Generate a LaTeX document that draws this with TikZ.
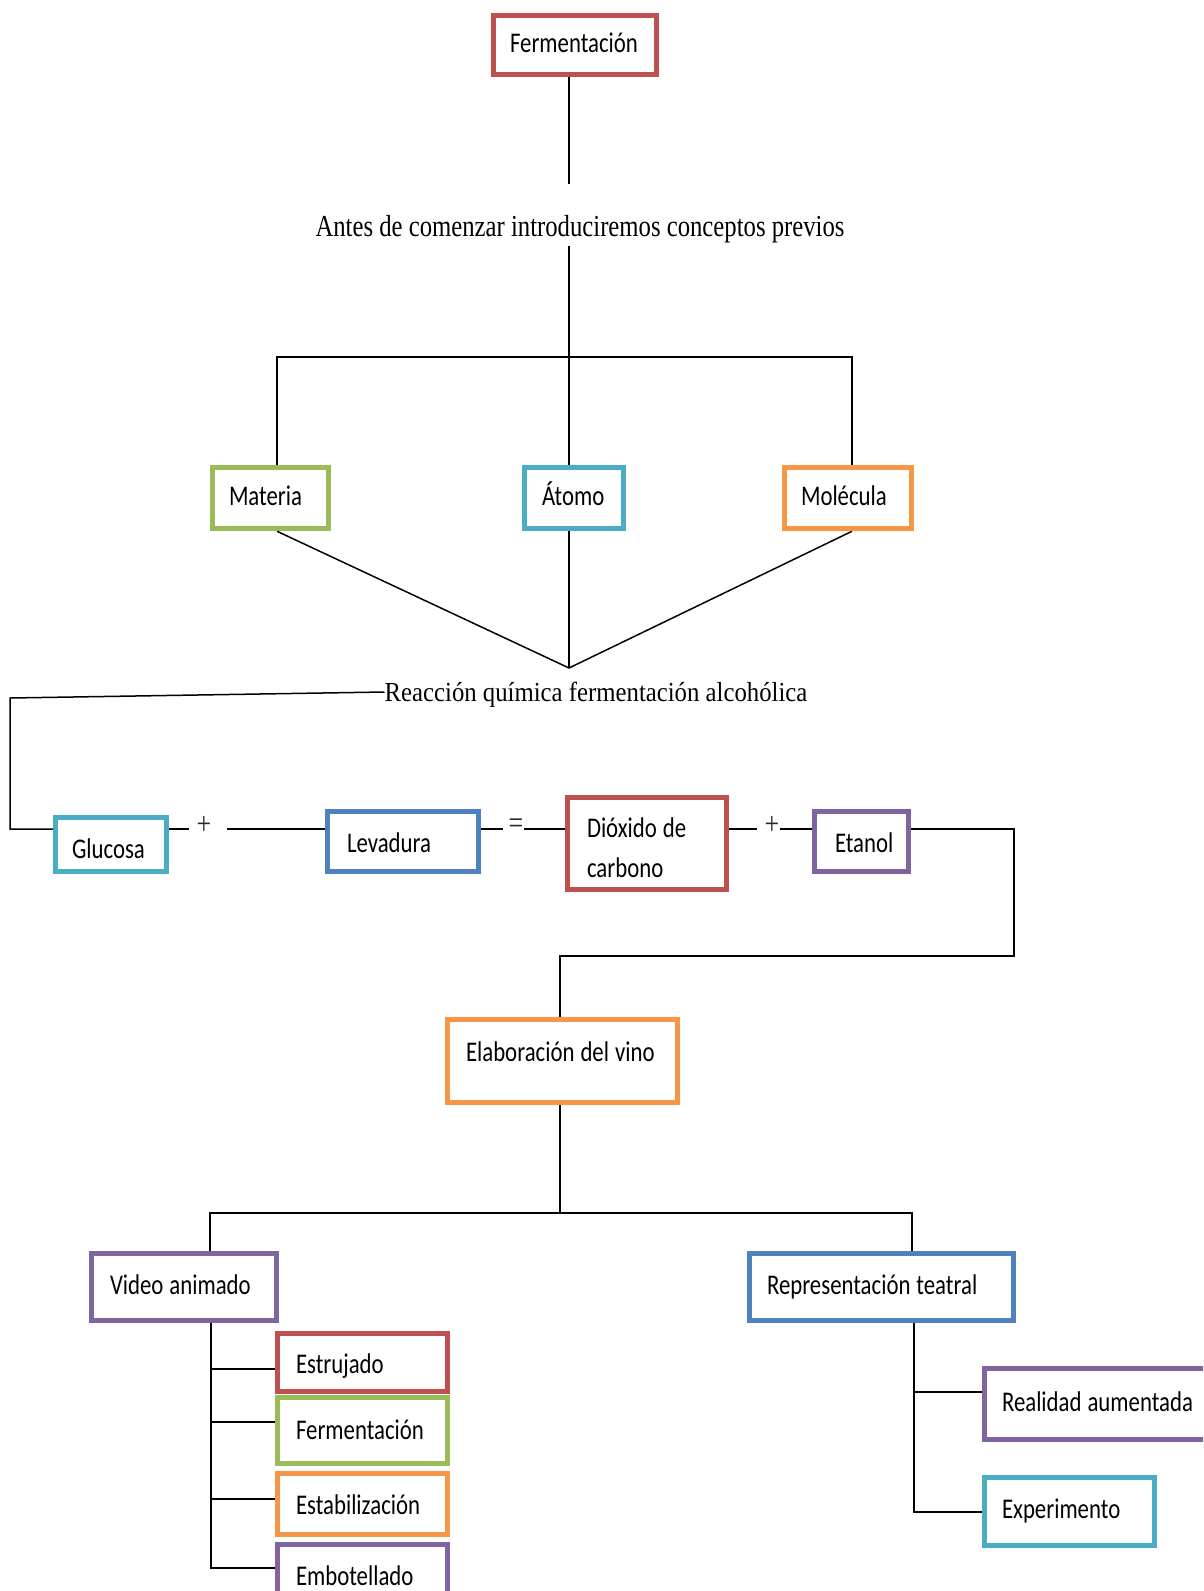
\documentclass[tikz,border=0pt]{standalone}
\usepackage{fontspec}
\newfontfamily\boxfont[FakeStretch=0.8]{Carlito}
\newfontfamily\introfont[FakeStretch=0.81]{Liberation Serif}
\newfontfamily\reacfont[FakeStretch=0.9]{Liberation Serif}
\usetikzlibrary{backgrounds}
\definecolor{cred}{HTML}{C0504D}
\definecolor{cgreen}{HTML}{9BBB59}
\definecolor{cteal}{HTML}{4BACC6}
\definecolor{corange}{HTML}{F79646}
\definecolor{cblue}{HTML}{4F81BD}
\definecolor{cpurple}{HTML}{8064A2}
\begin{document}
\begin{tikzpicture}[x=1pt,y=-1pt,
  bx/.style n args={4}{draw=#1, line width=5.5pt, fill=white, rectangle,
    minimum width=#2, minimum height=#3, inner xsep=#4, inner ysep=0pt,
    text width={#2-2*#4}, align=left,
    font=\boxfont\fontsize{28.5}{40}\selectfont,
    execute at begin node={\spaceskip=6pt\relax},
    text height=20pt, text depth=6pt},
  ln/.style={line width=1.5pt, draw=black},
  sgn/.style={inner sep=0pt, font=\introfont\fontsize{32}{36}\selectfont, text=black!85},
  introtxt/.style={inner sep=0pt, font=\introfont\fontsize{30.5}{36}\selectfont, text height=21pt, text depth=7pt},
  reactxt/.style={inner sep=0pt, font=\reacfont\fontsize{27.5}{33}\selectfont, text height=20pt, text depth=6pt}]
\useasboundingbox (0,0) rectangle (1203,1591);
\clip (0,0) rectangle (1203,1591);

% boxes and texts
\node[bx={cred}{163}{59}{16.5}] (ferm) at (575,45) {Fermentación};
\node[introtxt] (intro) at (580,229) {Antes de comenzar introduciremos conceptos previos};
\node[bx={cgreen}{116}{61}{16.5}] (mat) at (270.5,498) {Materia};
\node[bx={cteal}{99}{61}{17.5}] (ato) at (574,498) {Átomo};
\node[bx={corange}{127}{61}{16.5}] (mol) at (848,498) {Molécula};
\node[reactxt] (reac) at (596,694) {Reacción química fermentación alcohólica};
\node[bx={cteal}{111}{54}{16.5}] (glu) at (111,844.5) {\raisebox{-7pt}{Glucosa}};
\node[bx={cblue}{151}{60}{19.5}] (lev) at (403,841.5) {\raisebox{-4pt}{Levadura}};
\node[bx={cred}{159}{92}{19.5}, text height={}, text depth={}] (dio) at (647,843.5) {\raisebox{-4pt}[\height][\depth]{Dióxido de}\\\raisebox{-4pt}[\height][\depth]{carbono}};
\node[bx={cpurple}{94}{60}{20.5}] (eta) at (861.5,841.5) {\raisebox{-4pt}{Etanol}};
\node[bx={corange}{230}{83}{18.5}] (elab) at (562.5,1061) {\raisebox{6.5pt}{Elaboración del vino}};
\node[bx={cpurple}{185}{67}{18.5}] (vid) at (184,1287) {Video animado};
\node[bx={cblue}{264}{67}{17.5}] (rep) at (881.5,1287) {Representación teatral};
\node[bx={cred}{170}{58}{18.5}] (est) at (362.5,1362.5) {\raisebox{-4pt}{Estrujado}};
\node[bx={cgreen}{170}{66}{18.5}] (fer2) at (362.5,1430.5) {\raisebox{-2pt}{Fermentación}};
\node[bx={corange}{170}{61}{18.5}] (stab) at (362.5,1504) {\raisebox{-3pt}{Estabilización}};
\node[bx={cpurple}{170}{58}{18.5}] (emb) at (362.5,1573.5) {\raisebox{-5pt}{Embotellado}};
\node[bx={cpurple}{231}{71}{17.5}] (real) at (1100,1404) {Realidad aumentada};
\node[bx={cteal}{170}{68}{17.5}] (exp) at (1069.5,1511.5) {Experimento};

% signs
\node[sgn] (p1) at (204,825) {+};
\node[sgn] (eq) at (516,826) {=};
\node[sgn] (p2) at (772,825) {+};

\begin{pgfonlayer}{background}
\coordinate (c1) at (569,184);
\coordinate (c2) at (569,246);
\coordinate (jL) at (277,357);
\coordinate (jR) at (852,357);
\coordinate (cv) at (569,668);
\coordinate (r1) at (10,698);
\coordinate (r2) at (10,829);
\coordinate (g1) at (189,829);
\coordinate (g2) at (227,829);
\coordinate (l1) at (503,829);
\coordinate (l2) at (524,829);
\coordinate (d1) at (757,829);
\coordinate (d2) at (780,829);
\coordinate (e1) at (1014,829);
\coordinate (e2) at (1014,956);
\coordinate (e3) at (560,956);
\coordinate (t1) at (560,1213);
\coordinate (tL) at (210,1213);
\coordinate (tR) at (912,1213);
\coordinate (b1) at (211,1369);
\coordinate (b2) at (211,1422);
\coordinate (b3) at (211,1499);
\coordinate (vb) at (211,1568);
\coordinate (q1) at (914,1392);
\coordinate (rb) at (914,1512);

\draw[ln] (ferm.south -| c1) -- (c1);
\draw[ln] (c2) -- (ato.north -| c2);
\draw[ln] (mat.north -| jL) -- (jL) -- (jR) -- (mol.north -| jR);
\draw[ln] (mat.south -| jL) -- (cv) -- (mol.south -| jR);
\draw[ln] (ato.south -| cv) -- (cv);
\draw[ln] ([yshift=2pt]reac.west) -- (r1) -- (r2) -- (glu.west |- r2);
\draw[ln] (glu.east |- r2) -- (g1);
\draw[ln] (g2) -- (lev.west |- r2);
\draw[ln] (lev.east |- r2) -- (l1);
\draw[ln] (l2) -- (dio.west |- r2);
\draw[ln] (dio.east |- r2) -- (d1);
\draw[ln] (d2) -- (eta.west |- r2);
\draw[ln] (eta.east |- r2) -- (e1) -- (e2) -- (e3) -- (elab.north -| e3);
\draw[ln] (elab.south -| t1) -- (t1);
\draw[ln] (vid.north -| tL) -- (tL) -- (tR) -- (rep.north -| tR);
\draw[ln] (vid.south -| vb) -- (vb) -- (emb.west |- vb);
\draw[ln] (b1) -- (est.west |- b1);
\draw[ln] (b2) -- (fer2.west |- b2);
\draw[ln] (b3) -- (stab.west |- b3);
\draw[ln] (rep.south -| rb) -- (rb) -- (exp.west |- rb);
\draw[ln] (q1) -- (real.west |- q1);
\end{pgfonlayer}
\end{tikzpicture}
\end{document}
